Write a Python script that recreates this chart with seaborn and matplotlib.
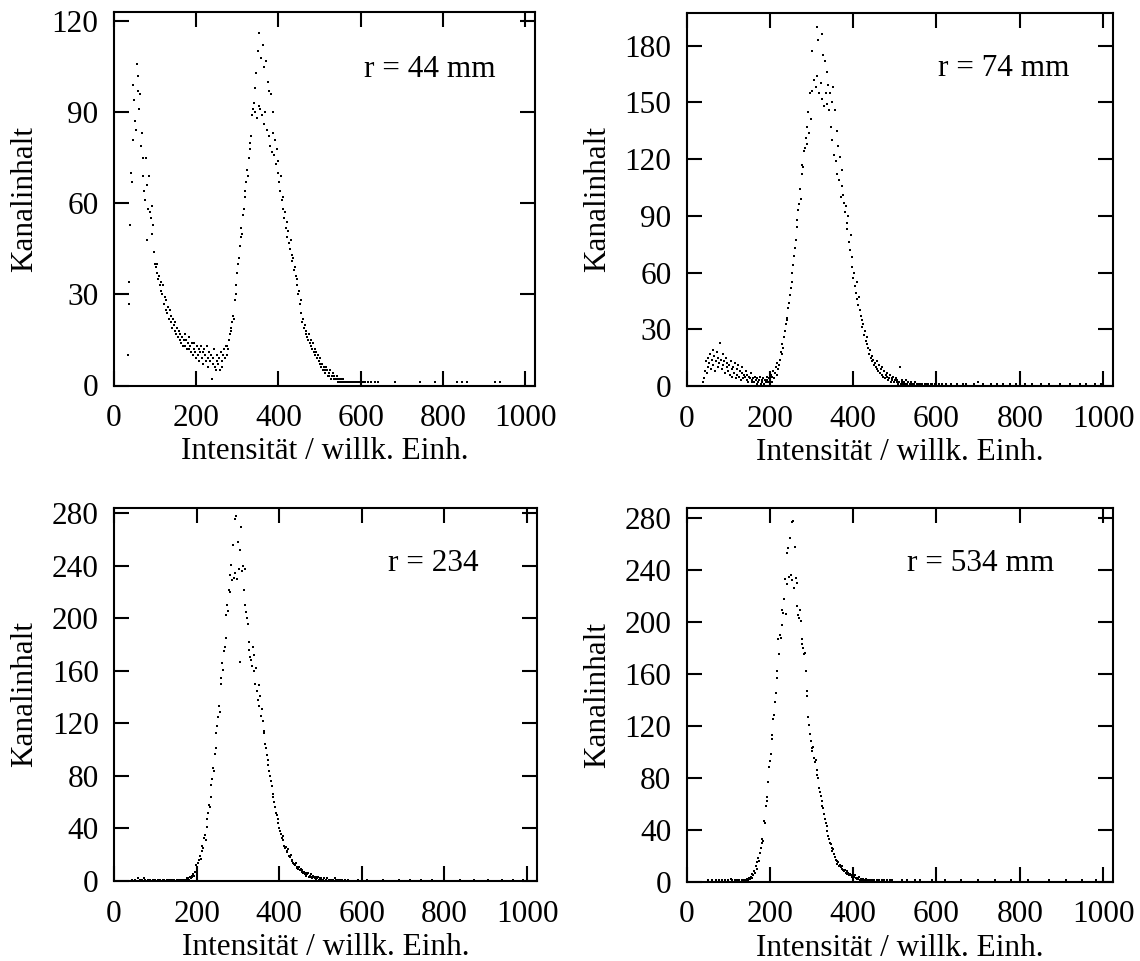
import numpy as np
import pandas as pd
import matplotlib
matplotlib.use("Agg")
import matplotlib.pyplot as plt
import seaborn as sns

CHANNEL_WIDTH = 2
x_label = "Intensität / willk. Einh."
y_label = "Kanalinhalt"
x_ticks = [0, 200, 400, 600, 800, 1000]

# ---- Panel 1: r = 44 mm (channel counts from x = 34 in steps of 2) ----
p1_start = 34
p1_counts = [
    10, 34, 27, 53, 70, 67, 99, 81, 94, 87,
    84, 106, 102, 97, 91, 96, 79, 83, 69, 75,
    64, 61, 75, 66, 48, 58, 69, 57, 55, 59,
    50, 53, 44, 40, 39, 37, 40, 35, 36, 33,
    34, 31, 30, 33, 27, 29, 25, 28, 24, 26,
    22, 25, 21, 23, 19, 22, 20, 18, 21, 17,
    19, 16, 18, 15, 17, 14, 16, 13, 15, 17,
    13, 15, 12, 14, 16, 12, 13, 11, 14, 10,
    12, 14, 11, 9, 13, 10, 12, 8, 11, 13,
    9, 11, 7, 12, 10, 8, 13, 9, 6, 11,
    8, 10, 2, 7, 9, 12, 6, 5, 8, 10,
    7, 9, 5, 11, 8, 6, 10, 12, 9, 13,
    10, 13, 12, 15, 17, 19, 18, 21, 23, 22,
    28, 30, 33, 37, 40, 42, 46, 49, 52, 50,
    56, 58, 62, 64, 67, 71, 69, 75, 78, 80,
    82, 89, 91, 93, 98, 90, 103, 88, 110, 92,
    116, 91, 108, 89, 112, 86, 105, 90, 107, 84,
    100, 82, 97, 79, 96, 77, 90, 83, 76, 81,
    73, 78, 70, 74, 67, 64, 69, 61, 58, 62,
    55, 57, 52, 54, 49, 51, 47, 45, 48, 43,
    41, 42, 38, 39, 36, 33, 35, 30, 31, 27,
    28, 24, 21, 22, 19, 20, 17, 18, 16, 15,
    17, 14, 15, 13, 12, 14, 11, 12, 10, 11,
    9, 10, 8, 7, 9, 6, 7, 5, 6, 5,
    4, 6, 5, 3, 4, 3, 5, 2, 3, 4,
    2, 3, 2, 2, 3, 1, 2, 2, 1, 2,
    1, 1, 2, 1, 1, 0, 1, 1, 1, 0,
    1, 1, 0, 1, 1, 1, 0, 1, 0, 1,
    1, 0, 1, 1, 0, 0, 1, 0, 1, 0,
]
p1_tail_x = [618, 626, 634, 642, 683, 744, 780, 801, 833, 845, 858, 925, 938]
p1_tail_y = [1, 1, 1, 1, 1, 1, 1, 1, 1, 1, 1, 1, 1]

# ---- Panel 2: r = 74 mm (from x = 40) ----
p2_start = 40
p2_counts = [
    2, 4, 8, 13, 7, 15, 10, 12, 17, 9,
    14, 19, 11, 16, 8, 13, 18, 10, 15, 12,
    23, 14, 9, 17, 11, 13, 7, 15, 10, 12,
    8, 11, 6, 13, 9, 5, 10, 7, 12, 4,
    9, 6, 11, 5, 8, 3, 7, 10, 4, 6,
    5, 8, 3, 6, 2, 5, 4, 7, 2, 3,
    4, 2, 5, 3, 1, 4, 2, 3, 5, 1,
    3, 2, 4, 1, 3, 2, 5, 3, 2, 4,
    3, 6, 2, 5, 8, 4, 7, 10, 6, 12,
    9, 11, 14, 18, 17, 22, 20, 26, 29, 33,
    36, 35, 41, 44, 48, 52, 55, 60, 64, 69,
    73, 77, 84, 88, 93, 96, 104, 99, 112, 117,
    116, 124, 126, 131, 137, 128, 145, 134, 155, 141,
    177, 156, 198, 162, 198, 158, 190, 164, 183, 155,
    198, 160, 186, 152, 175, 148, 172, 155, 166, 149,
    159, 146, 155, 137, 150, 130, 158, 122, 146, 119,
    135, 112, 127, 109, 121, 100, 114, 106, 101, 97,
    92, 95, 86, 83, 90, 76, 72, 80, 68, 63,
    57, 60, 53, 49, 55, 46, 43, 47, 40, 37,
    35, 31, 33, 27, 29, 24, 22, 26, 20, 17,
    19, 15, 16, 13, 14, 11, 12, 10, 13, 9,
    8, 11, 7, 9, 6, 10, 5, 8, 4, 6,
    5, 7, 3, 4, 6, 2, 4, 3, 5, 2,
    3, 4, 2, 3, 1, 2, 10, 1, 2, 3,
    1, 2, 1, 3, 1, 1, 2, 0, 1, 2,
    1, 0, 1, 1, 2, 0, 1, 0, 1, 1,
    0, 1, 0, 1, 0, 0, 1, 0, 1, 0,
    1, 0, 0, 1, 0, 1, 0, 0, 1, 0,
]
p2_tail_x = [606, 614, 622, 636, 650, 664, 672, 690, 700, 712, 730, 746, 760,
             776, 790, 812, 830, 852, 870, 896, 920, 944, 960, 980, 996]
p2_tail_y = [1, 1, 1, 1, 1, 1, 1, 1, 2, 1, 1, 1, 1,
             1, 1, 1, 1, 1, 1, 1, 1, 1, 1, 1, 1]

# ---- Panel 3: r = 234 (from x = 40) ----
p3_start = 40
p3_counts = [
    0, 0, 1, 0, 0, 0, 1, 0, 0, 2,
    0, 1, 0, 0, 1, 0, 2, 0, 1, 0,
    0, 1, 0, 0, 1, 0, 0, 1, 0, 0,
    1, 0, 0, 1, 0, 0, 1, 0, 0, 1,
    0, 1, 0, 0, 1, 0, 1, 0, 0, 1,
    0, 1, 0, 1, 0, 0, 1, 0, 1, 1,
    0, 1, 1, 0, 1, 1, 0, 1, 2, 1,
    2, 1, 3, 2, 4, 3, 5, 4, 7, 12,
    9, 11, 14, 16, 19, 17, 23, 27, 25, 33,
    35, 31, 41, 47, 52, 58, 56, 64, 73, 78,
    86, 84, 97, 101, 113, 118, 125, 133, 129, 150,
    155, 166, 161, 175, 178, 185, 203, 210, 206, 222,
    233, 220, 241, 229, 256, 231, 276, 235, 278, 230,
    258, 238, 252, 167, 270, 236, 240, 222, 238, 210,
    205, 200, 196, 182, 176, 171, 168, 164, 178, 160,
    172, 150, 162, 145, 138, 149, 133, 141, 126, 131,
    122, 114, 113, 104, 101, 96, 92, 88, 84, 80,
    76, 72, 66, 64, 60, 56, 52, 50, 47, 44,
    40, 38, 36, 33, 31, 34, 27, 25, 26, 23,
    22, 24, 19, 18, 20, 16, 15, 14, 13, 12,
    14, 11, 10, 9, 11, 8, 9, 7, 8, 6,
    7, 5, 6, 4, 5, 6, 3, 4, 5, 3,
    2, 4, 3, 2, 3, 1, 2, 3, 1, 2,
    1, 2, 1, 1, 2, 0, 1, 1, 2, 0,
    1, 0, 1, 1, 0, 1, 0, 2, 0, 1,
    0, 1, 0, 0, 1, 0, 1, 0, 0, 1,
]
p3_tail_x = [566, 590, 612, 650, 690, 716, 744, 770, 800, 838, 872, 906, 940, 966, 990]
p3_tail_y = [1, 1, 1, 1, 1, 1, 1, 1, 1, 1, 1, 1, 1, 1, 1]

# ---- Panel 4: r = 534 mm (from x = 40) ----
p4_start = 40
p4_counts = [
    0, 0, 0, 0, 0, 1, 0, 0, 0, 0,
    1, 0, 0, 0, 0, 1, 0, 0, 0, 1,
    0, 0, 1, 0, 0, 0, 1, 0, 0, 0,
    1, 0, 0, 2, 0, 1, 0, 0, 1, 0,
    0, 1, 0, 1, 0, 0, 1, 1, 0, 1,
    1, 0, 2, 1, 1, 3, 2, 4, 3, 6,
    5, 8, 7, 12, 10, 15, 18, 16, 22, 26,
    30, 33, 31, 47, 45, 58, 65, 62, 77, 88,
    93, 98, 110, 113, 125, 128, 138, 145, 157, 162,
    187, 175, 190, 188, 198, 209, 207, 218, 233, 206,
    253, 229, 257, 235, 265, 236, 277, 232, 278, 226,
    258, 234, 230, 212, 205, 203, 209, 201, 187, 183,
    180, 175, 176, 162, 147, 143, 127, 121, 114, 108,
    103, 101, 104, 95, 92, 94, 86, 82, 80, 72,
    69, 66, 62, 58, 57, 52, 48, 45, 43, 39,
    35, 33, 30, 29, 26, 24, 25, 21, 19, 17,
    16, 14, 15, 12, 13, 11, 10, 12, 9, 8,
    9, 7, 8, 6, 7, 5, 6, 5, 4, 5,
    3, 4, 5, 3, 2, 3, 2, 4, 1, 2,
    2, 1, 2, 1, 1, 2, 0, 1, 1, 0,
    1, 0, 1, 1, 0, 1, 0, 0, 1, 0,
    0, 1, 0, 0, 1, 0, 0, 1, 0, 0,
    1, 0, 0, 0, 1, 0, 0, 1, 0, 0,
]
p4_tail_x = [516, 530, 548, 560, 590, 620, 660, 700, 740, 780, 820, 870, 910, 950, 984]
p4_tail_y = [1, 1, 1, 1, 1, 1, 1, 1, 1, 1, 1, 1, 1, 1, 1]

labels = ["r = 44 mm", "r = 74 mm", "r = 234", "r = 534 mm"]
y_tops = [123, 197.5, 284.4, 288]
y_tick_sets = [[0, 30, 60, 90, 120],
               [0, 30, 60, 90, 120, 150, 180],
               [0, 40, 80, 120, 160, 200, 240, 280],
               [0, 40, 80, 120, 160, 200, 240, 280]]

sns.set_style("ticks")
plt.rcParams["font.family"] = ["Liberation Serif", "DejaVu Serif"]
plt.rcParams["text.color"] = "black"
plt.rcParams["axes.labelcolor"] = "black"
plt.rcParams["xtick.color"] = "black"
plt.rcParams["ytick.color"] = "black"

W, H = 1140, 961
fig = plt.figure(figsize=(W / 100, H / 100), dpi=100)

# axes frames in pixel coords: left, top, right, bottom
frames = [(113.7, 12.0, 535.3, 385.5),
          (686.7, 12.5, 1113.0, 386.0),
          (114.0, 507.7, 537.0, 881.0),
          (686.7, 507.7, 1113.0, 881.7)]
text_pos = [(0.905, 0.845), (0.897, 0.851), (0.863, 0.85), (0.863, 0.85)]

data_sets = [
    (p1_start, p1_counts, p1_tail_x, p1_tail_y),
    (p2_start, p2_counts, p2_tail_x, p2_tail_y),
    (p3_start, p3_counts, p3_tail_x, p3_tail_y),
    (p4_start, p4_counts, p4_tail_x, p4_tail_y),
]

FS = 22.5
for i, (start, counts, tx, ty) in enumerate(data_sets):
    l, t, r, b = frames[i]
    ax = fig.add_axes([l / W, 1 - b / H, (r - l) / W, (b - t) / H])
    chans = start + CHANNEL_WIDTH * np.arange(len(counts))
    df = pd.DataFrame({"x": np.concatenate([chans, np.array(tx)]),
                       "y": np.concatenate([np.array(counts), np.array(ty)])})
    sns.scatterplot(data=df, x="x", y="y", ax=ax, marker="s", s=1.6,
                    color="black", linewidth=0, legend=False, zorder=3)
    ax.set_xlim(0, 1024)
    ax.set_ylim(0, y_tops[i])
    ax.set_xticks(x_ticks)
    ax.set_yticks(y_tick_sets[i])
    ax.tick_params(axis="both", direction="in", length=10.5, width=1.5,
                   top=True, right=True, labelsize=FS, colors="black")
    ax.tick_params(axis="x", pad=13.5)
    ax.tick_params(axis="y", pad=11)
    for s in ax.spines.values():
        s.set_visible(True)
        s.set_linewidth(1.5)
        s.set_color("black")
    ax.set_xlabel(x_label, fontsize=FS, labelpad=3, color="black")
    ax.set_ylabel(y_label, fontsize=FS, labelpad=9, color="black")
    ax.text(text_pos[i][0], text_pos[i][1], labels[i], transform=ax.transAxes,
            ha="right", va="center", fontsize=FS, color="black")

fig.savefig("out.png", dpi=100)
